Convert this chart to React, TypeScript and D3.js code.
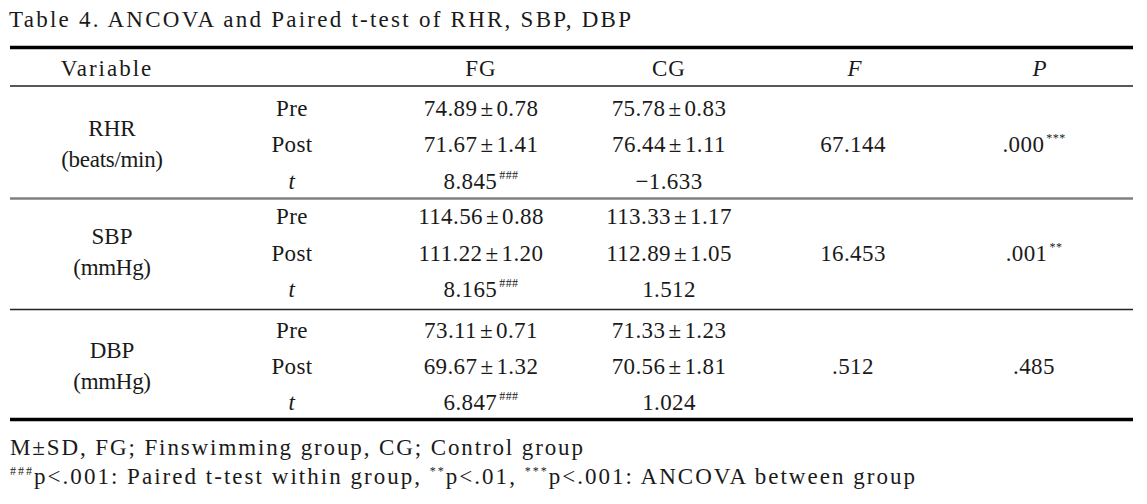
import React from "react";
import * as d3 from "d3";

const title = "Table 4. ANCOVA and Paired t-test of RHR, SBP, DBP";
const headers = ["Variable", "", "FG", "CG", "F", "P"];
const variables = ["RHR", "SBP", "DBP"];
const units = ["(beats/min)", "(mmHg)", "(mmHg)"];
const phases = ["Pre", "Post", "t"];
const fgPreMean = [74.89, 114.56, 73.11];
const fgPreSD = [0.78, 0.88, 0.71];
const fgPostMean = [71.67, 111.22, 69.67];
const fgPostSD = [1.41, 1.2, 1.32];
const cgPreMean = [75.78, 113.33, 71.33];
const cgPreSD = [0.83, 1.17, 1.23];
const cgPostMean = [76.44, 112.89, 70.56];
const cgPostSD = [1.11, 1.05, 1.81];
const fgT = [8.845, 8.165, 6.847];
const fgTSig = ["###", "###", "###"];
const cgT = [-1.633, 1.512, 1.024];
const fValues = [67.144, 16.453, 0.512];
const pValues = [0.0, 0.001, 0.485];
const pSig = ["***", "**", ""];
const footnote1 = "M±SD, FG; Finswimming group, CG; Control group";
const footnote2Parts = [
  { sup: "###", text: "p<.001: Paired t-test within group, " },
  { sup: "**", text: "p<.01, " },
  { sup: "***", text: "p<.001: ANCOVA between group" },
];

const W = 1147;
const H = 504;
const FONT = "'Liberation Serif', 'Times New Roman', serif";
const FS = 23;

const f2 = d3.format(".2f");
const f3 = d3.format(".3f");
const noLead = (v: number) => f3(v).replace(/^0\./, ".").replace(/^-/, "−");

type Cell = { key: string; row: number; parts: { t: string; pad?: boolean }[]; sup?: string; italic?: boolean };

export default function App() {
  const x = d3
    .scaleOrdinal<string, number>()
    .domain(["var", "phase", "fg", "cg", "f", "p"])
    .range([112, 292, 481, 669, 853, 1034]);
  const rowY = d3.scaleLinear().domain([0, 8]).range([108, 108 + 8 * 36.3]);
  const groupShift = [0, -0.5, 4];
  const y = (r: number) => rowY(r) + groupShift[Math.min(2, Math.floor(r / 3))];
  const headerY = 68;
  const base = 8;
  const lineL = 10;
  const lineR = 1133;
  const colKeys = ["var", "phase", "fg", "cg", "f", "p"];

  const ms = (m: number, s: number) => [{ t: f2(m) }, { t: "±", pad: true }, { t: f2(s), pad: true }];

  const cells: Cell[] = [];
  variables.forEach((v, g) => {
    const r0 = g * 3;
    phases.forEach((ph, k) => cells.push({ key: "phase", row: r0 + k, parts: [{ t: ph }], italic: ph === "t" }));
    cells.push({ key: "fg", row: r0, parts: ms(fgPreMean[g], fgPreSD[g]) });
    cells.push({ key: "fg", row: r0 + 1, parts: ms(fgPostMean[g], fgPostSD[g]) });
    cells.push({ key: "fg", row: r0 + 2, parts: [{ t: f3(fgT[g]) }], sup: fgTSig[g] });
    cells.push({ key: "cg", row: r0, parts: ms(cgPreMean[g], cgPreSD[g]) });
    cells.push({ key: "cg", row: r0 + 1, parts: ms(cgPostMean[g], cgPostSD[g]) });
    cells.push({ key: "cg", row: r0 + 2, parts: [{ t: f3(cgT[g]).replace("-", "− ") }] });
    cells.push({ key: "f", row: r0 + 1, parts: [{ t: fValues[g] >= 1 ? f3(fValues[g]) : noLead(fValues[g]) }] });
    cells.push({ key: "p", row: r0 + 1, parts: [{ t: noLead(pValues[g]) }], sup: pSig[g] || undefined });
  });

  const sep1 = (y(2) + y(3)) / 2;
  const sep2 = (y(5) + y(6)) / 2;
  const bottom = y(8) + 17;

  return (
    <svg
      width={W}
      height={H}
      style={{ position: "absolute", left: 0, top: 0, background: "#fff" }}
      fontFamily={FONT}
      fontSize={FS}
      fill="#1a1a1a"
    >
      <rect width={W} height={H} fill="#fff" />
      <text x={9} y={27} textLength={622} lengthAdjust="spacing">{title}</text>
      <line x1={lineL} x2={lineR} y1={47.5} y2={47.5} stroke="#000" strokeWidth={3.5} />
      {headers.map((h, i) =>
        h ? (
          <text
            key={i}
            x={i === 0 ? 107 : i === 5 ? 1040 : i === 4 ? 855 : x(colKeys[i])}
            y={headerY + base}
            textAnchor="middle"
            fontStyle={h === "F" || h === "P" ? "italic" : "normal"}
            letterSpacing={i === 0 ? 2 : 1}
          >
            {h}
          </text>
        ) : null
      )}
      <line x1={lineL} x2={lineR} y1={86} y2={86} stroke="#222" strokeWidth={1.5} />
      {variables.map((v, g) => (
        <g key={v}>
          <text x={x("var")} y={y(g * 3 + 0.55) + base} textAnchor="middle">{v}</text>
          <text x={x("var")} y={y(g * 3 + 1.4) + base} textAnchor="middle" letterSpacing={-0.3}>{units[g]}</text>
        </g>
      ))}
      {cells.map((c, i) => (
        <text
          key={i}
          x={x(c.key)}
          y={y(c.row) + base}
          textAnchor="middle"
          fontStyle={c.italic ? "italic" : "normal"}
          letterSpacing={0.4}
        >
          {c.parts.map((p, j) => (
            <tspan key={j} dx={p.pad ? 3 : 0}>{p.t}</tspan>
          ))}
          {c.sup ? (
            <tspan fontSize={12} dx={2} dy={-10}>{c.sup}</tspan>
          ) : null}
        </text>
      ))}
      <line x1={lineL} x2={lineR} y1={sep1} y2={sep1} stroke="#808080" strokeWidth={2.5} />
      <line x1={lineL} x2={lineR} y1={sep2} y2={sep2} stroke="#222" strokeWidth={1.5} />
      <line x1={lineL} x2={lineR} y1={bottom} y2={bottom} stroke="#000" strokeWidth={3.5} />
      <text x={10} y={455} textLength={573} lengthAdjust="spacing">{footnote1}</text>
      <text x={10} y={484} textLength={905} lengthAdjust="spacing">
        {footnote2Parts.map((p, i) => (
          <React.Fragment key={i}>
            <tspan fontSize={12} dy={-9}>{p.sup}</tspan>
            <tspan dy={9}>{p.text}</tspan>
          </React.Fragment>
        ))}
      </text>
    </svg>
  );
}
